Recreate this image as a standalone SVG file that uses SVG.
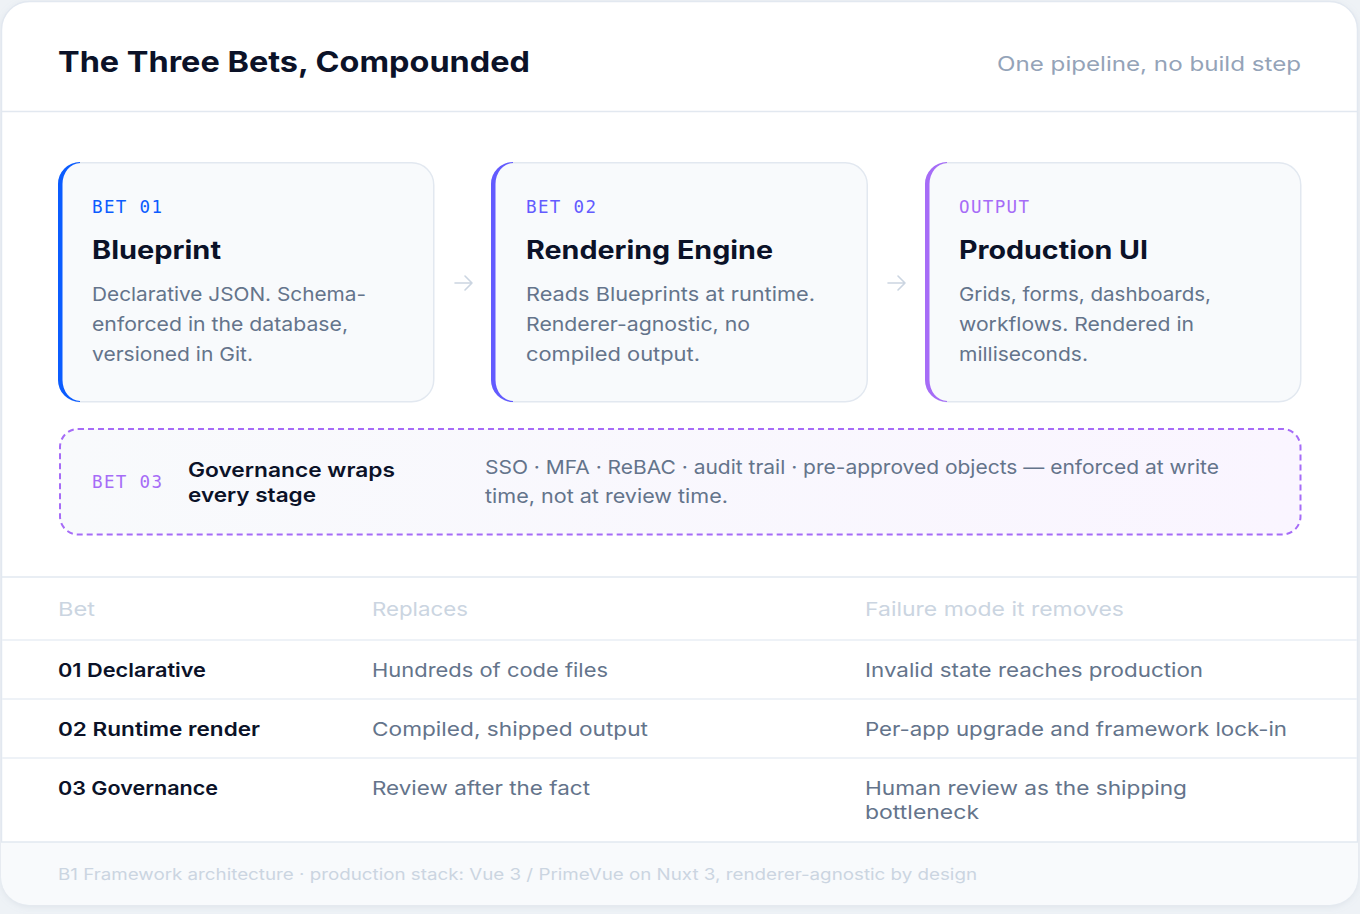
<svg xmlns="http://www.w3.org/2000/svg" width="1360" height="914" viewBox="0 0 1360 914">
<defs>
<style>
.sans{font-family:Inter,"Open Sans","Liberation Sans",sans-serif}
.mono{font-family:"DejaVu Sans Mono","Liberation Mono",monospace;font-size:17.5px;font-weight:400}
.h1{font-size:29px;font-weight:700;fill:#0b1228}
.sub{font-size:20px;fill:#94a3b8}
.ct{font-size:25px;font-weight:700;fill:#0b1228}
.body{font-size:19px;fill:#64748b}
.gt{font-size:20px;font-weight:600;fill:#0b1228}
.th{font-size:19px;fill:#cbd5e1}
.tb{font-size:19px;font-weight:600;fill:#0b1228}
.td{font-size:19px;fill:#64748b}
.foot{font-size:16px;fill:#cbd5e1}
.card{fill:#f8fafc;stroke:#e2e8f0;stroke-width:1.5}
.rule{stroke:#eef2f7;stroke-width:2}
.arrow{fill:none;stroke:#cbd5e1;stroke-width:1.6;stroke-linecap:round;stroke-linejoin:round}
</style>
<linearGradient id="gov" x1="0" y1="0" x2="1" y2="0">
<stop offset="0" stop-color="#f8fafc"/>
<stop offset="1" stop-color="#faf5ff"/>
</linearGradient>
<filter id="sh" x="-5%" y="-5%" width="110%" height="110%">
<feDropShadow dx="0" dy="2" stdDeviation="3" flood-color="#94a3b8" flood-opacity="0.18"/>
</filter>
</defs>
<rect x="0" y="0" width="1360" height="914" fill="#eef2f6"/>
<g id="frame">
<rect x="1.5" y="1.5" width="1356" height="903" rx="28" fill="#ffffff" stroke="#e2e8f0" stroke-width="1.5" filter="url(#sh)"/>
<path d="M1,842 H1358 V877 A28,28 0 0 1 1330,905 H29 A28,28 0 0 1 1,877 Z" fill="#f8fafc"/>
<line x1="1" y1="111.5" x2="1358" y2="111.5" stroke="#e2e8f0" stroke-width="1.5"/>
<line x1="1" y1="577" x2="1358" y2="577" stroke="#e2e8f0" stroke-width="1.5"/>
<line x1="1" y1="842" x2="1358" y2="842" stroke="#e2e8f0" stroke-width="1.5"/>
</g>
<g id="header">
<text class="sans h1" x="58" y="72" textLength="472" lengthAdjust="spacingAndGlyphs">The Three Bets, Compounded</text>
<text class="sans sub" x="997" y="71" textLength="304" lengthAdjust="spacingAndGlyphs">One pipeline, no build step</text>
</g>
<g id="connectors">
<path class="arrow" d="M455,283 H472 M465,276 L472,283 L465,290"/>
<path class="arrow" d="M888,283 H905 M898,276 L905,283 L898,290"/>
</g>
<g id="bet01">
<rect class="card" x="58.75" y="162.75" width="375" height="239" rx="22"/>
<path d="M80,162 A22,22 0 0 0 58,184 V380 A22,22 0 0 0 80,402 V401 A18,21 0 0 1 62.5,380 V184 A18,21 0 0 1 80,163 Z" fill="#0b5cff"/>
<text class="mono" x="92" y="213" fill="#0b5cff" textLength="70">BET 01</text>
<text class="sans ct" x="92" y="259" textLength="129" lengthAdjust="spacingAndGlyphs">Blueprint</text>
<text class="sans body" x="92" y="301" textLength="274" lengthAdjust="spacingAndGlyphs">Declarative JSON. Schema-</text>
<text class="sans body" x="92" y="331" textLength="256" lengthAdjust="spacingAndGlyphs">enforced in the database,</text>
<text class="sans body" x="92" y="361" textLength="161" lengthAdjust="spacingAndGlyphs">versioned in Git.</text>
</g>
<g id="bet02">
<rect class="card" x="491.75" y="162.75" width="375.5" height="239" rx="22"/>
<path d="M513,162 A22,22 0 0 0 491,184 V380 A22,22 0 0 0 513,402 V401 A18,21 0 0 1 495.5,380 V184 A18,21 0 0 1 513,163 Z" fill="#635bff"/>
<text class="mono" x="526" y="213" fill="#635bff" textLength="70">BET 02</text>
<text class="sans ct" x="526" y="259" textLength="247" lengthAdjust="spacingAndGlyphs">Rendering Engine</text>
<text class="sans body" x="526" y="301" textLength="289" lengthAdjust="spacingAndGlyphs">Reads Blueprints at runtime.</text>
<text class="sans body" x="526" y="331" textLength="224" lengthAdjust="spacingAndGlyphs">Renderer-agnostic, no</text>
<text class="sans body" x="526" y="361" textLength="174" lengthAdjust="spacingAndGlyphs">compiled output.</text>
</g>
<g id="output">
<rect class="card" x="925.75" y="162.75" width="375" height="239" rx="22"/>
<path d="M947,162 A22,22 0 0 0 925,184 V380 A22,22 0 0 0 947,402 V401 A18,21 0 0 1 929.5,380 V184 A18,21 0 0 1 947,163 Z" fill="#a66cf7"/>
<text class="mono" x="959" y="213" fill="#a66cf7" textLength="70">OUTPUT</text>
<text class="sans ct" x="959" y="259" textLength="189" lengthAdjust="spacingAndGlyphs">Production UI</text>
<text class="sans body" x="959" y="301" textLength="252" lengthAdjust="spacingAndGlyphs">Grids, forms, dashboards,</text>
<text class="sans body" x="959" y="331" textLength="235" lengthAdjust="spacingAndGlyphs">workflows. Rendered in</text>
<text class="sans body" x="959" y="361" textLength="129" lengthAdjust="spacingAndGlyphs">milliseconds.</text>
</g>
<g id="bet03">
<rect x="60" y="429" width="1240.5" height="105.5" rx="18" fill="url(#gov)" stroke="#a66cf7" stroke-width="2" stroke-dasharray="6 4"/>
<text class="mono" x="92" y="488" fill="#a66cf7" textLength="70">BET 03</text>
<text class="sans gt" x="188" y="477" textLength="207" lengthAdjust="spacingAndGlyphs">Governance wraps</text>
<text class="sans gt" x="188" y="502" textLength="128" lengthAdjust="spacingAndGlyphs">every stage</text>
<text class="sans body" x="485" y="474" textLength="734" lengthAdjust="spacingAndGlyphs">SSO · MFA · ReBAC · audit trail · pre-approved objects — enforced at write</text>
<text class="sans body" x="485" y="503" textLength="243" lengthAdjust="spacingAndGlyphs">time, not at review time.</text>
</g>
<g id="table">
<line class="rule" x1="2" y1="640" x2="1357" y2="640"/>
<line class="rule" x1="2" y1="699" x2="1357" y2="699"/>
<line class="rule" x1="2" y1="758" x2="1357" y2="758"/>
<text class="sans th" x="58" y="616" textLength="37" lengthAdjust="spacingAndGlyphs">Bet</text>
<text class="sans th" x="372" y="616" textLength="96" lengthAdjust="spacingAndGlyphs">Replaces</text>
<text class="sans th" x="865" y="616" textLength="259" lengthAdjust="spacingAndGlyphs">Failure mode it removes</text>
<text class="sans tb" x="58" y="677" textLength="148" lengthAdjust="spacingAndGlyphs">01 Declarative</text>
<text class="sans td" x="372" y="677" textLength="236" lengthAdjust="spacingAndGlyphs">Hundreds of code files</text>
<text class="sans td" x="865" y="677" textLength="338" lengthAdjust="spacingAndGlyphs">Invalid state reaches production</text>
<text class="sans tb" x="58" y="736" textLength="202" lengthAdjust="spacingAndGlyphs">02 Runtime render</text>
<text class="sans td" x="372" y="736" textLength="276" lengthAdjust="spacingAndGlyphs">Compiled, shipped output</text>
<text class="sans td" x="865" y="736" textLength="422" lengthAdjust="spacingAndGlyphs">Per-app upgrade and framework lock-in</text>
<text class="sans tb" x="58" y="795" textLength="160" lengthAdjust="spacingAndGlyphs">03 Governance</text>
<text class="sans td" x="372" y="795" textLength="218" lengthAdjust="spacingAndGlyphs">Review after the fact</text>
<text class="sans td" x="865" y="795" textLength="322" lengthAdjust="spacingAndGlyphs">Human review as the shipping</text>
<text class="sans td" x="865" y="819" textLength="114" lengthAdjust="spacingAndGlyphs">bottleneck</text>
</g>
<g id="footer">
<text class="sans foot" x="58" y="880" textLength="919" lengthAdjust="spacingAndGlyphs">B1 Framework architecture · production stack: Vue 3 / PrimeVue on Nuxt 3, renderer-agnostic by design</text>
</g>
</svg>
